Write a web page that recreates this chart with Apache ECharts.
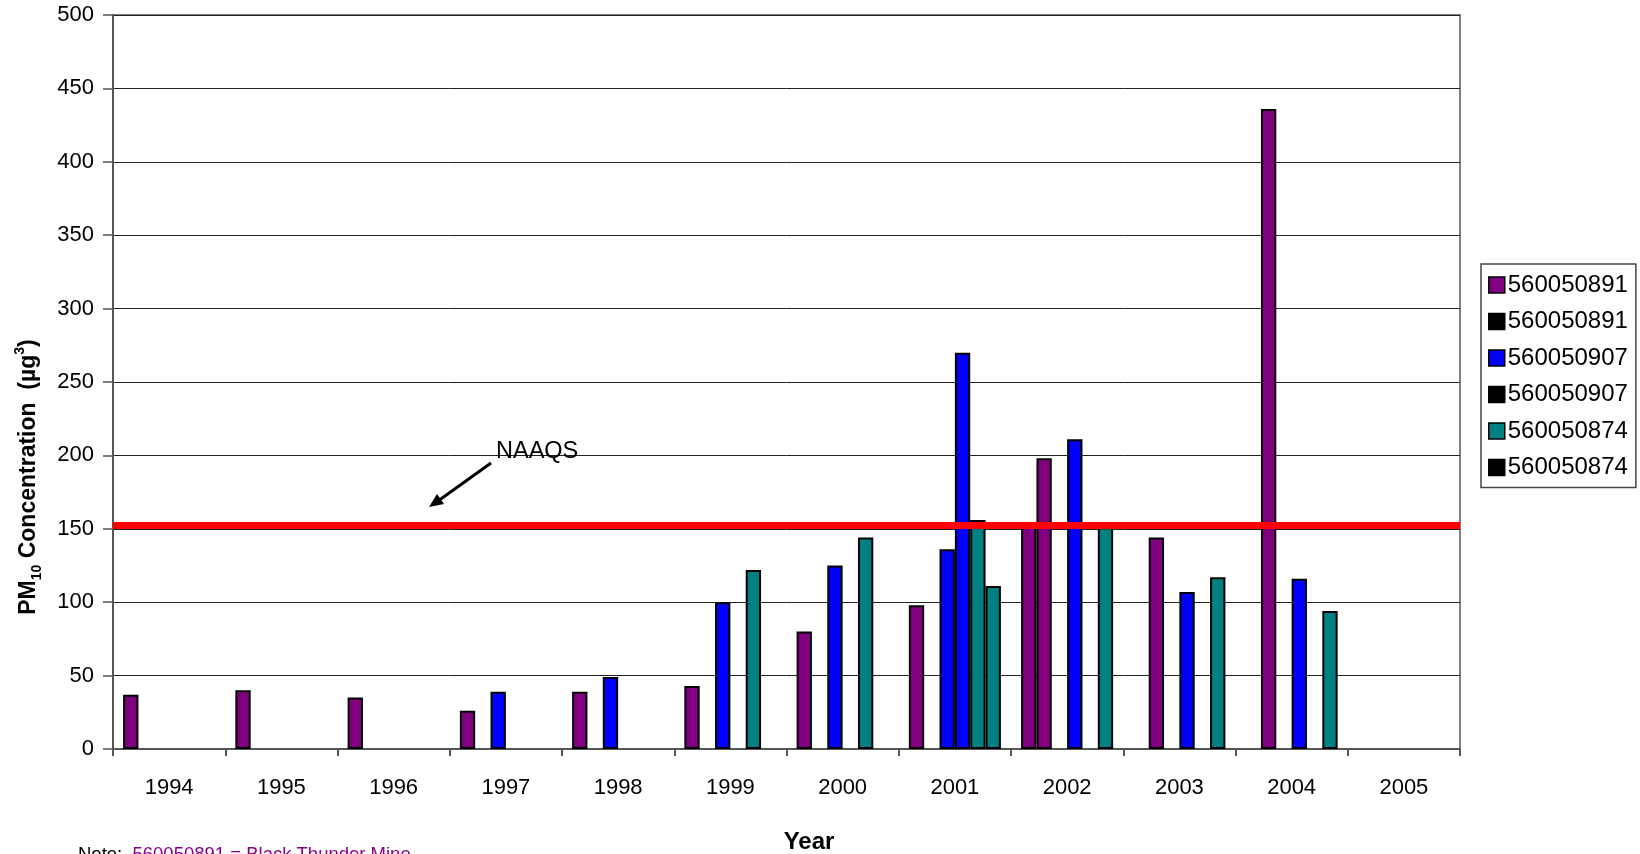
<!DOCTYPE html>
<html>
<head>
<meta charset="utf-8">
<script src="https://cdn.jsdelivr.net/npm/echarts@6/dist/echarts.min.js"></script>
<style>
html,body{margin:0;padding:0;background:#fff;}
#c{width:1640px;height:854px;}
</style>
</head>
<body>
<div id="c"></div>
<script>
const years = ['1994','1995','1996','1997','1998','1999','2000','2001','2002','2003','2004','2005'];
const seriesNames = ['560050891','560050891 ','560050907','560050907 ','560050874','560050874 '];
const blackThunderA = [37, 40, 35, 26, 39, 43, 80, 98, 152, null, null, null];
const blackThunderB = [null, null, null, null, null, null, null, null, 198, 144, 436, null];
const site907A = [null, null, null, 39, 49, 100, 125, 136, null, null, null, null];
const site907B = [null, null, null, null, null, null, null, 270, 211, 107, 116, null];
const site874A = [null, null, null, null, null, 122, 144, 156, null, null, null, null];
const site874B = [null, null, null, null, null, null, null, 111, 151, 117, 94, null];
const naaqsValue = 152.5;
const yTicks = {min: 0, max: 500, interval: 50};

const FONT = "'Liberation Sans', Arial, sans-serif";
const colors = ['#800080', '#800080', '#0000FF', '#0000FF', '#008080', '#008080'];
const legendColors = ['#800080', '#000000', '#0000FF', '#000000', '#008080', '#000000'];
const dataSets = [blackThunderA, blackThunderB, site907A, site907B, site874A, site874B];

const chart = echarts.init(document.getElementById('c'), null, {renderer: 'canvas'});

const series = seriesNames.map((n, i) => {
  const s = {
    name: n,
    type: 'bar',
    data: dataSets[i],
    barGap: '0%',
    barCategoryGap: '18%',
    itemStyle: {color: colors[i], borderColor: '#000', borderWidth: 2},
    emphasis: {disabled: true},
    animation: false
  };
  if (i === 0) {
    s.markLine = {
      silent: true,
      symbol: ['none', 'none'],
      label: {show: false},
      lineStyle: {color: '#FF0000', width: 7, type: 'solid'},
      data: [{yAxis: naaqsValue}],
      animation: false
    };
  }
  return s;
});

const option = {
  animation: false,
  backgroundColor: '#fff',
  textStyle: {fontFamily: FONT},
  grid: {left: 113, right: 180, top: 15, bottom: 105, show: true, borderColor: '#808080', borderWidth: 2, containLabel: false},
  xAxis: {
    type: 'category',
    data: years,
    axisLine: {lineStyle: {color: '#555', width: 2}},
    axisTick: {show: true, interval: 0, length: 7, lineStyle: {color: '#555', width: 2}},
    axisLabel: {fontSize: 22, color: '#000', margin: 28, fontFamily: FONT, interval: 0},
    splitLine: {show: false}
  },
  yAxis: {
    type: 'value',
    min: yTicks.min, max: yTicks.max, interval: yTicks.interval,
    axisLine: {show: true, lineStyle: {color: '#555', width: 2}},
    axisTick: {show: true, length: 10, lineStyle: {color: '#555', width: 1.5}},
    axisLabel: {fontSize: 22, color: '#000', margin: 19, fontFamily: FONT},
    splitLine: {show: true, lineStyle: {color: '#222', width: 1}}
  },
  legend: {
    orient: 'vertical',
    left: 1481,
    top: 264,
    padding: [9, 8, 8, 7],
    itemGap: 12.5,
    itemWidth: 16,
    itemHeight: 16,
    itemStyle: {borderColor: '#000', borderWidth: 1.5},
    borderColor: '#444',
    borderWidth: 1.5,
    textStyle: {fontSize: 24, color: '#000', fontFamily: FONT, padding: [0, 0, 0, -2]},
    formatter: n => n.trim(),
    selectedMode: false,
    data: seriesNames.map((n, i) => ({name: n, icon: 'rect', itemStyle: {color: legendColors[i], borderColor: '#000', borderWidth: 1.5}}))
  },
  graphic: [
    {
      type: 'text', x: 29, y: 477, rotation: Math.PI / 2, z: 10,
      style: {
        text: 'PM{sub|10} Concentration  (µg{sup|3})',
        align: 'center', verticalAlign: 'middle',
        font: "bold 23px 'Liberation Sans', Arial, sans-serif",
        fill: '#000',
        rich: {
          sub: {fontSize: 14, fontWeight: 'bold', fontFamily: FONT, lineHeight: 14, verticalAlign: 'bottom', padding: [0, 0, -4, 0]},
          sup: {fontSize: 14, fontWeight: 'bold', fontFamily: FONT, lineHeight: 14, verticalAlign: 'top', padding: [-4, 0, 0, 0]}
        }
      }
    },
    {
      type: 'text', x: 809, y: 842, z: 10,
      style: {text: 'Year', align: 'center', verticalAlign: 'middle', font: "bold 24px 'Liberation Sans', Arial, sans-serif", fill: '#000'}
    },
    {
      type: 'text', x: 496, y: 452, z: 10,
      style: {text: 'NAAQS', align: 'left', verticalAlign: 'middle', font: "23.5px 'Liberation Sans', Arial, sans-serif", fill: '#000'}
    },
    {
      type: 'line', z: 10,
      shape: {x1: 491, y1: 463, x2: 438, y2: 501},
      style: {stroke: '#000', lineWidth: 3}
    },
    {
      type: 'polygon', z: 10,
      shape: {points: [[429, 507], [444, 504], [437, 494]]},
      style: {fill: '#000'}
    },
    {
      type: 'text', x: 78, y: 855, z: 10,
      style: {
        text: 'Note:  {p|560050891 = Black Thunder Mine}',
        align: 'left', verticalAlign: 'middle',
        font: "18.5px 'Liberation Sans', Arial, sans-serif",
        fill: '#000',
        rich: {p: {fontSize: 18.5, fontFamily: FONT, fill: '#8B008B'}}
      }
    }
  ],
  series: series
};

chart.setOption(option);
</script>
</body>
</html>
